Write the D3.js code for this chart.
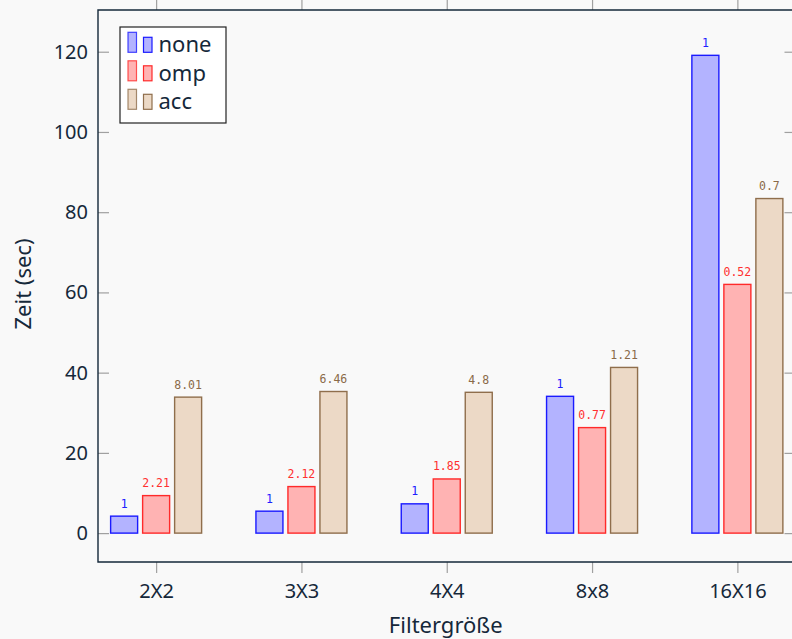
<!DOCTYPE html>
<html>
<head>
<meta charset="utf-8">
<script src="https://cdn.jsdelivr.net/npm/d3@7/dist/d3.min.js"></script>
<style>
  html, body { margin: 0; padding: 0; background: #f9f9f9; }
  svg { display: block; }
</style>
</head>
<body>
<svg id="chart" width="792" height="639"></svg>
<script>
// Runtime per filter size (seconds) and relative factors printed above each bar
const categories = ["2X2", "3X3", "4X4", "8x8", "16X16"];
const seriesNames = ["none", "omp", "acc"];
const noneTimes = [4.23, 5.47, 7.3, 34.1, 119.1];
const ompTimes = [9.35, 11.6, 13.5, 26.3, 62.0];
const accTimes = [33.9, 35.3, 35.1, 41.3, 83.4];
const noneLabels = ["1", "1", "1", "1", "1"];
const ompLabels = ["2.21", "2.12", "1.85", "0.77", "0.52"];
const accLabels = ["8.01", "6.46", "4.8", "1.21", "0.7"];
const yTicks = [0, 20, 40, 60, 80, 100, 120];

const series = [
  { name: "none", values: noneTimes, labels: noneLabels, fill: "#b3b3ff", stroke: "#1a1aff", text: "#2020ff" },
  { name: "omp",  values: ompTimes,  labels: ompLabels,  fill: "#ffb3b3", stroke: "#ff2a2a", text: "#ff3030" },
  { name: "acc",  values: accTimes,  labels: accLabels,  fill: "#ecd9c6", stroke: "#8f6e4c", text: "#8a6a48" }
];

const ink = "#15283a";
const tickGray = "#a0a0a0";
const sans = "'Noto Sans', 'Open Sans', sans-serif";
const mono = "'DejaVu Sans Mono', 'Liberation Mono', monospace";

const svg = d3.select("#chart");
const frame = { left: 98, right: 795.5, top: 10, bottom: 562 };

const x = d3.scalePoint().domain(categories).range([frame.left, frame.right]).padding(0.4);
const xInner = d3.scaleBand().domain(seriesNames).range([-45.5, 45.5]).paddingInner(5 / 32).paddingOuter(0);
const y = d3.scaleLinear().domain([-7.2, 130.4]).range([frame.bottom, frame.top]);

// y ticks (inward on left and right)
const yAxisL = d3.axisRight(y).tickValues(yTicks).tickSize(11).tickFormat("");
const gL = svg.append("g").attr("transform", `translate(${frame.left},0)`).call(yAxisL);
gL.select(".domain").remove();
gL.selectAll(".tick line").attr("stroke", tickGray).attr("stroke-width", 1.2);

const yAxisR = d3.axisLeft(y).tickValues(yTicks).tickSize(11).tickFormat("");
const gR = svg.append("g").attr("transform", `translate(${frame.right},0)`).call(yAxisR);
gR.select(".domain").remove();
gR.selectAll(".tick line").attr("stroke", tickGray).attr("stroke-width", 1.2);

// y tick labels
svg.append("g").selectAll("text").data(yTicks).join("text")
  .attr("x", frame.left - 10)
  .attr("y", d => y(d))
  .attr("dy", "0.35em")
  .attr("text-anchor", "end")
  .attr("font-family", sans)
  .attr("font-size", 20)
  .attr("fill", ink)
  .text(d => d);

// x ticks (outward on bottom and top)
const xAxisB = d3.axisBottom(x).tickSize(11).tickPadding(9);
const gB = svg.append("g").attr("transform", `translate(0,${frame.bottom})`).call(xAxisB);
gB.select(".domain").remove();
gB.selectAll(".tick line").attr("stroke", tickGray).attr("stroke-width", 1.2);
gB.selectAll(".tick text")
  .attr("font-family", sans).attr("font-size", 20).attr("fill", ink)
  .attr("dy", "0.78em");

const xAxisT = d3.axisTop(x).tickSize(11).tickFormat("");
const gT = svg.append("g").attr("transform", `translate(0,${frame.top})`).call(xAxisT);
gT.select(".domain").remove();
gT.selectAll(".tick line").attr("stroke", tickGray).attr("stroke-width", 1.2);

// bars
const barGroups = svg.append("g").selectAll("g").data(series).join("g");
barGroups.selectAll("rect")
  .data(s => s.values.map((v, i) => ({ s, v, cat: categories[i], label: s.labels[i] })))
  .join("rect")
  .attr("x", d => x(d.cat) + xInner(d.s.name))
  .attr("width", xInner.bandwidth())
  .attr("y", d => y(d.v))
  .attr("height", d => y(0) - y(d.v))
  .attr("fill", d => d.s.fill)
  .attr("stroke", d => d.s.stroke)
  .attr("stroke-width", 1.4);

barGroups.selectAll("text")
  .data(s => s.values.map((v, i) => ({ s, v, cat: categories[i], label: s.labels[i] })))
  .join("text")
  .attr("x", d => x(d.cat) + xInner(d.s.name) + xInner.bandwidth() / 2)
  .attr("y", d => y(d.v) - 8.5)
  .attr("text-anchor", "middle")
  .attr("font-family", mono)
  .attr("font-size", 11.5)
  .attr("fill", d => d.s.text)
  .text(d => d.label);

// frame lines
svg.append("path")
  .attr("d", `M${frame.right + 5},${frame.top}H${frame.left}V${frame.bottom}H${frame.right + 5}`)
  .attr("fill", "none")
  .attr("stroke", ink)
  .attr("stroke-width", 1.4);

// axis titles
svg.append("text")
  .attr("x", (frame.left + frame.right) / 2 - 1)
  .attr("y", 633)
  .attr("text-anchor", "middle")
  .attr("font-family", sans).attr("font-size", 22).attr("fill", ink)
  .text("Filtergröße");

svg.append("text")
  .attr("transform", `translate(31,${(frame.top + frame.bottom) / 2 - 2}) rotate(-90)`)
  .attr("text-anchor", "middle")
  .attr("font-family", sans).attr("font-size", 22).attr("fill", ink)
  .text("Zeit (sec)");

// legend
const legend = svg.append("g").attr("transform", "translate(120,27)");
legend.append("rect")
  .attr("width", 106).attr("height", 96)
  .attr("fill", "#ffffff").attr("stroke", "#222222").attr("stroke-width", 1.2);
const rowH = 28.5;
const rows = legend.selectAll("g.row").data(series).join("g")
  .attr("class", "row")
  .attr("transform", (d, i) => `translate(0,${25.3 + i * rowH})`);
rows.append("rect")
  .attr("x", 8).attr("y", -20).attr("width", 8.5).attr("height", 20)
  .attr("fill", d => d.fill).attr("stroke", d => d.stroke).attr("stroke-width", 1.2).attr("stroke-opacity", 0.8);
rows.append("rect")
  .attr("x", 23.5).attr("y", -15).attr("width", 8.5).attr("height", 15)
  .attr("fill", d => d.fill).attr("stroke", d => d.stroke).attr("stroke-width", 1.2);
rows.append("text")
  .attr("x", 38.5).attr("y", 0)
  .attr("font-family", sans).attr("font-size", 22).attr("fill", ink)
  .text(d => d.name);
</script>
</body>
</html>
